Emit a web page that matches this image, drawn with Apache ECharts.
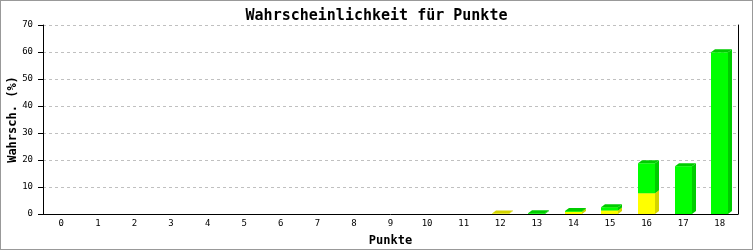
<!DOCTYPE html>
<html><head><meta charset="utf-8">
<script src="https://cdn.jsdelivr.net/npm/echarts@6/dist/echarts.min.js"></script>
<style>html,body{margin:0;padding:0;background:#fff}#c{width:753px;height:250px;position:absolute;left:0;top:0}
#b{position:absolute;left:0;top:0;width:753px;height:250px;box-sizing:border-box;border:1px solid #999;pointer-events:none}</style>
</head><body><div id="c"></div><div id="b"></div>
<script>
const categories = ['0','1','2','3','4','5','6','7','8','9','10','11','12','13','14','15','16','17','18'];
const yellowValues = [0,0,0,0,0,0,0,0,0,0,0,0,0.2,0,0.8,1.3,7.7,0,0];
const greenValues  = [0,0,0,0,0,0,0,0,0,0,0,0,0,0.3,0.3,1.2,11.1,17.7,59.9];
const yTicks = [0,10,20,30,40,50,60,70];

const FONT = '"DejaVu Sans Mono", monospace';
const chart = echarts.init(document.getElementById('c'), null, {renderer:'canvas'});

function make3D(front, dark) {
  return function (params, api) {
    const base = api.value(1), top = api.value(2);
    if (top - base <= 0) return null;
    const p0 = api.coord([api.value(0), base]);
    const p1 = api.coord([api.value(0), top]);
    const w = 17, dx = 4, dy = 3;
    const x0 = Math.round(p0[0] - w / 2), x1 = x0 + w;
    const yb = p0[1], yt = p1[1];
    return {
      type: 'group',
      children: [
        {type:'rect', shape:{x:x0, y:yt, width:w, height:yb-yt}, style:{fill:front}},
        {type:'polygon', shape:{points:[[x1,yt],[x1+dx,yt-dy],[x1+dx,yb-dy],[x1,yb]]}, style:{fill:dark}},
        {type:'polygon', shape:{points:[[x0,yt],[x0+dx,yt-dy],[x1+dx,yt-dy],[x1,yt]]}, style:{fill:dark}}
      ]
    };
  };
}

const yellowData = categories.map((c,i)=>[i, 0, yellowValues[i]]);
const greenData = categories.map((c,i)=>[i, yellowValues[i], yellowValues[i]+greenValues[i]]);

chart.setOption({
  animation:false,
  title:{text:'Wahrscheinlichkeit für Punkte', left:'center', top:4,
    textStyle:{fontFamily:FONT, fontSize:15, fontWeight:'bold', color:'#000'}},
  grid:{left:43, right:15, top:25, bottom:36, containLabel:false, outerBoundsMode:'none'},
  xAxis:{type:'category', data:categories, boundaryGap:true,
    name:'Punkte', nameLocation:'middle', nameGap:21,
    nameTextStyle:{fontFamily:FONT, fontSize:12, fontWeight:'bold', color:'#000'},
    axisLine:{lineStyle:{color:'#000', width:1}},
    axisTick:{show:false},
    axisLabel:{fontFamily:FONT, fontSize:9, color:'#000', margin:5, interval:0}},
  yAxis:[{type:'value', min:0, max:70, interval:10,
    name:'Wahrsch. (%)', nameLocation:'middle', nameGap:24, nameMoveOverlap:false,
    nameTextStyle:{fontFamily:FONT, fontSize:12, fontWeight:'bold', color:'#000'},
    axisLine:{show:true, lineStyle:{color:'#000', width:1}},
    axisTick:{show:true, length:5, lineStyle:{color:'#000'}},
    axisLabel:{fontFamily:FONT, fontSize:9, color:'#000', margin:10,
      formatter:v=>yTicks.includes(v)?String(v):''},
    splitLine:{show:true, lineStyle:{color:'#c0c0c0', type:[3,3]}}},
    {type:'value', min:0, max:70, position:'right',
     axisLine:{show:true, lineStyle:{color:'#000', width:1}},
     axisTick:{show:false}, axisLabel:{show:false}, splitLine:{show:false}}],
  series:[
    {type:'custom', renderItem:make3D('#ffff00','#d4d400'), data:yellowData, encode:{x:0,y:[1,2]}},
    {type:'custom', renderItem:make3D('#00ff00','#00cc00'), data:greenData, encode:{x:0,y:[1,2]}}
  ]
});
</script></body></html>
